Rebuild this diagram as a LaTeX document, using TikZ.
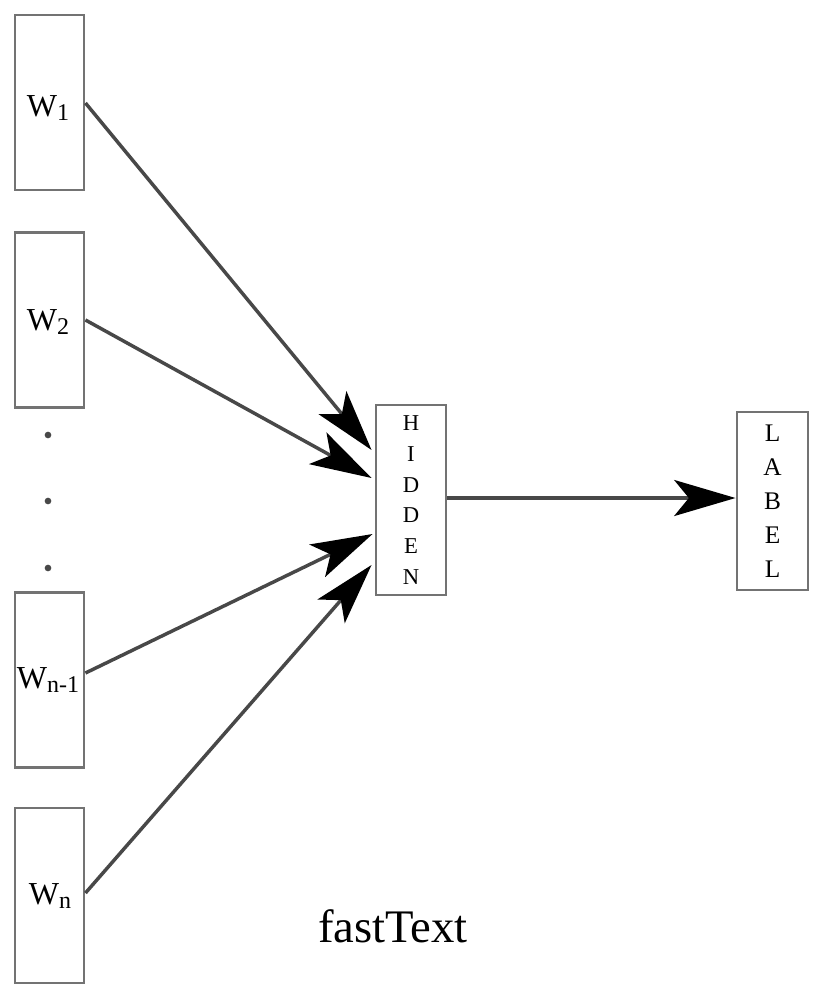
\documentclass[tikz,border=0pt]{standalone}
\usepackage{fontspec}
\setmainfont{Liberation Serif}
\usetikzlibrary{arrows.meta,calc}
\definecolor{boxgray}{RGB}{115,115,115}
\definecolor{linegray}{RGB}{72,72,72}
\newcommand\wlab[2]{W\raisebox{-0.32ex}{\fontsize{18}{18}\selectfont #2}}
\begin{document}
\begin{tikzpicture}[x=0.75pt,y=-0.75pt,
  wbox/.style={draw=boxgray,line width=2.2pt,minimum width=51.75pt,minimum height=131.25pt,inner sep=0pt},
  vbox/.style={draw=boxgray,line width=2.2pt,inner sep=0pt,align=center},
  wtext/.style={font=\fontsize{24}{24}\selectfont,inner sep=0pt},
  conn/.style={draw=linegray,line width=2.6pt,-{Stealth[length=46pt,width=27pt,inset=11pt,color=black]}},
  dot/.style={circle,fill=linegray,inner sep=0pt,minimum size=5pt}]
\useasboundingbox (0,0) rectangle (823,1000);
% input boxes
\node[wbox] (w1) at (49.5,102.5) {};
\node[wbox] (w2) at (49.5,320) {};
\node[wbox] (wn1) at (49.5,680) {};
\node[wbox] (wn) at (49.5,895.5) {};
\node[wtext] (w1t) at (48,108) {\wlab{W}{1}};
\node[wtext] (w2t) at (48,322) {\wlab{W}{2}};
\node[wtext] (wn1t) at (48,680) {\wlab{W}{n-1}};
\node[wtext] (wnt) at (50,896) {\wlab{W}{n}};
% dots
\node[dot] (d1) at (48,435) {};
\node[dot] (d2) at (48,501) {};
\node[dot] (d3) at (48,568) {};
% hidden and label
\node[vbox,minimum width=52.5pt,minimum height=142.5pt,font=\fontsize{17}{23}\selectfont] (hidden) at (411,500) {H\\I\\D\\D\\E\\N};
\node[vbox,minimum width=53.25pt,minimum height=133.5pt,font=\fontsize{19}{25.5}\selectfont] (label) at (772.5,501) {L\\A\\B\\E\\L};
% caption
\node[font=\fontsize{35}{35}\selectfont,inner sep=0pt] (cap) at (393,926) {fastText};
% connector endpoints
\coordinate (s1) at (w1.east |- 0,103);
\coordinate (s2) at (w2.east |- 0,320);
\coordinate (s3) at (wn1.east |- 0,673);
\coordinate (s4) at (wn.east |- 0,893);
\coordinate (h1) at ($(hidden.west)+(-3,-50)$);
\coordinate (h2) at ($(hidden.west)+(-3,-22)$);
\coordinate (h3) at ($(hidden.west)+(-2,34)$);
\coordinate (h4) at ($(hidden.west)+(-3,65)$);
\draw[conn] (s1) -- (h1);
\draw[conn] (s2) -- (h2);
\draw[conn] (s3) -- (h3);
\draw[conn] (s4) -- (h4);
\draw[conn] (hidden.east |- 0,498) -- (label.west |- 0,498);
\end{tikzpicture}
\end{document}
